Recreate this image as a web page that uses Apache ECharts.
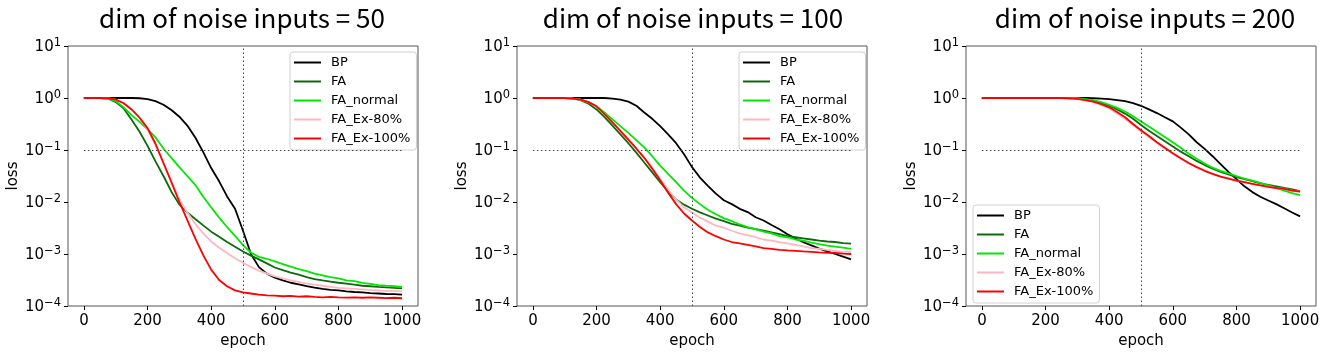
<!DOCTYPE html>
<html>
<head>
<meta charset="utf-8">
<script src="https://cdn.jsdelivr.net/npm/echarts@6/dist/echarts.min.js"></script>
<style>
  html, body { margin: 0; padding: 0; background: #fff; }
  #chart { width: 1325px; height: 354px; }
</style>
</head>
<body>
<div id="chart"></div>
<script>
// epochs sampled every 25
const epochs = [0,25,50,75,100,125,150,175,200,225,250,275,300,325,350,375,400,425,450,475,500,
  525,550,575,600,625,650,675,700,725,750,775,800,825,850,875,900,925,950,975,1000];

const names = ['BP', 'FA', 'FA_normal', 'FA_Ex-80%', 'FA_Ex-100%'];
const colors = ['#000000', '#0a6b0a', '#00e800', '#ffb6c1', '#ff0000'];
const titles = ['dim of noise inputs = 50', 'dim of noise inputs = 100', 'dim of noise inputs = 200'];

const xTicks = [0, 200, 400, 600, 800, 1000];
const yTicks = [1e-4, 1e-3, 1e-2, 1e-1, 1, 10];
const refEpoch = 500;
const refLoss = 0.1;

// dim = 50
const bp50 = [1,1,1,1,1,1,1,0.989,0.955,0.871,0.741,0.589,0.437,0.295,0.174,0.091,0.045,0.025,0.0128,0.0074,0.0028,
  0.001,0.00056,0.00042,0.00035,0.00031,0.00028,0.00026,0.00024,0.000226,0.000214,0.000205,0.000199,0.000191,0.000186,0.000182,0.000177,0.000174,0.00017,0.000169,0.000166];
const fa50 = [1,1,1,0.977,0.832,0.631,0.38,0.224,0.12,0.0603,0.0316,0.0158,0.0089,0.0063,0.0047,0.00355,0.00269,0.00214,0.0017,0.00138,0.00112,
  0.00093,0.00079,0.00066,0.00055,0.00049,0.00044,0.0004,0.00036,0.00033,0.00031,0.000295,0.00028,0.00027,0.000257,0.000245,0.00024,0.000234,0.000229,0.000224,0.000219];
const faNormal50 = [1,1,1,0.977,0.871,0.661,0.468,0.347,0.251,0.174,0.107,0.0708,0.0468,0.0316,0.0214,0.0126,0.0079,0.005,0.0033,0.00224,0.00148,
  0.00107,0.00088,0.00081,0.00072,0.00064,0.00057,0.00051,0.00047,0.00042,0.00039,0.00036,0.00034,0.00031,0.0003,0.000278,0.000266,0.000253,0.000246,0.00024,0.000234];
const faEx80_50 = [1,1,1,0.989,0.933,0.794,0.603,0.417,0.251,0.126,0.0562,0.0251,0.0112,0.0063,0.0038,0.0025,0.00174,0.00132,0.00105,0.00083,0.00068,
  0.00056,0.00048,0.00042,0.00037,0.00034,0.00031,0.00029,0.00027,0.000257,0.000245,0.000234,0.000224,0.000219,0.000214,0.000209,0.000204,0.0002,0.000195,0.000195,0.000191];
const faEx100_50 = [1,1,1,0.989,0.933,0.794,0.603,0.417,0.263,0.132,0.0562,0.024,0.01,0.00447,0.002,0.00095,0.0005,0.000316,0.00024,0.0002,0.000182,
  0.000174,0.000166,0.00016,0.000158,0.000154,0.000156,0.000151,0.000154,0.00015,0.000147,0.00015,0.000147,0.000145,0.000147,0.000144,0.000146,0.000144,0.000142,0.000144,0.000141];

// dim = 100
const bp100 = [1,1,1,1,1,1,1,1,1,1,0.977,0.933,0.851,0.708,0.525,0.398,0.288,0.2,0.135,0.083,0.0468,
  0.0295,0.0205,0.0145,0.0108,0.0091,0.0074,0.0064,0.0051,0.0044,0.0036,0.003,0.0024,0.002,0.00168,0.00146,0.00127,0.00112,0.001,0.00089,0.00079];
const fa100 = [1,1,1,1,1,0.977,0.912,0.776,0.603,0.427,0.295,0.2,0.135,0.089,0.0575,0.0372,0.024,0.0158,0.0112,0.0089,0.0074,
  0.0063,0.0055,0.0048,0.0043,0.0038,0.0035,0.0032,0.003,0.0028,0.0026,0.0024,0.0022,0.0021,0.002,0.0019,0.0018,0.00174,0.0017,0.00162,0.00158];
const faNormal100 = [1,1,1,1,1,0.977,0.933,0.832,0.692,0.525,0.389,0.288,0.214,0.155,0.112,0.0759,0.05,0.0347,0.024,0.0166,0.012,
  0.0091,0.0071,0.0058,0.0049,0.0043,0.0037,0.0033,0.003,0.0027,0.0025,0.0022,0.0021,0.0019,0.0018,0.00166,0.00155,0.00145,0.00138,0.00132,0.00126];
const faEx80_100 = [1,1,1,1,1,0.977,0.933,0.832,0.692,0.49,0.339,0.234,0.158,0.107,0.0708,0.046,0.028,0.0174,0.0112,0.0079,0.0063,
  0.005,0.0042,0.0035,0.0032,0.0028,0.0025,0.0023,0.0021,0.0019,0.0018,0.0017,0.0016,0.0015,0.0014,0.0013,0.00126,0.0012,0.00115,0.0011,0.0011];
const faEx100_100 = [1,1,1,1,1,0.977,0.933,0.832,0.692,0.49,0.339,0.234,0.158,0.107,0.0708,0.0437,0.0263,0.0151,0.0091,0.006,0.0044,
  0.0033,0.0026,0.0022,0.0019,0.0017,0.0016,0.0015,0.0014,0.0013,0.00126,0.0012,0.00117,0.00115,0.00112,0.0011,0.00107,0.00105,0.00105,0.00102,0.001];

// dim = 200
const bp200 = [1,1,1,1,1,1,1,1,1,1,1,1,1,1,0.989,0.977,0.955,0.912,0.871,0.794,0.708,
  0.603,0.513,0.427,0.355,0.269,0.2,0.141,0.105,0.0759,0.0537,0.038,0.0275,0.02,0.0155,0.0126,0.0107,0.0091,0.0076,0.0063,0.0053];
const fa200 = [1,1,1,1,1,1,1,1,1,1,1,0.989,0.977,0.933,0.871,0.794,0.708,0.603,0.501,0.398,0.302,
  0.234,0.186,0.148,0.117,0.093,0.0759,0.0617,0.0513,0.0437,0.038,0.0339,0.0302,0.0275,0.0251,0.0229,0.0214,0.02,0.0186,0.0174,0.0162];
const faNormal200 = [1,1,1,1,1,1,1,1,1,1,1,1,0.989,0.955,0.912,0.832,0.741,0.646,0.55,0.447,0.355,
  0.282,0.224,0.178,0.141,0.11,0.0851,0.0676,0.055,0.0457,0.0398,0.0355,0.0316,0.0282,0.0257,0.0234,0.0209,0.0186,0.0166,0.0148,0.0135];
const faEx80_200 = [1,1,1,1,1,1,1,1,1,1,1,0.985,0.96,0.9,0.83,0.74,0.631,0.501,0.398,0.302,0.229,
  0.178,0.138,0.107,0.085,0.068,0.055,0.047,0.04,0.0347,0.031,0.0282,0.0257,0.024,0.0224,0.0209,0.0195,0.0186,0.0178,0.0166,0.0158];
const faEx100_200 = [1,1,1,1,1,1,1,1,1,1,1,0.989,0.966,0.912,0.851,0.759,0.661,0.537,0.427,0.316,0.24,
  0.186,0.141,0.11,0.087,0.0692,0.0562,0.0468,0.0398,0.0347,0.0309,0.0282,0.0257,0.024,0.0224,0.0209,0.0195,0.0186,0.0178,0.0166,0.0158];

const panels = [
  [bp50, fa50, faNormal50, faEx80_50, faEx100_50],
  [bp100, fa100, faNormal100, faEx80_100, faEx100_100],
  [bp200, fa200, faNormal200, faEx80_200, faEx100_200]
];

const gridLefts = [68, 517, 966];
const gridWidth = 350;
const titleCenters = [237, 688, 1140];
const legendPos = [{left: 290, top: 52}, {left: 739, top: 52}, {left: 973, top: 205}];

const tickFont = 'DejaVu Sans';

function supLabel(v) {
  const e = Math.round(Math.log10(v));
  return '{b|10}{s|' + (e < 0 ? '\u2212' + (-e) : e) + '}';
}

const chart = echarts.init(document.getElementById('chart'));

const grid = [], xAxis = [], yAxis = [], series = [], title = [], legend = [];

panels.forEach((sets, p) => {
  grid.push({left: gridLefts[p], top: 46, width: gridWidth, height: 262,
    show: true, borderColor: '#555', borderWidth: 1, backgroundColor: '#fff'});
  xAxis.push({
    type: 'value', gridIndex: p, min: -50, max: 1050,
    name: 'epoch', nameLocation: 'middle', nameGap: 28,
    nameTextStyle: {fontFamily: tickFont, fontSize: 15, color: '#000'},
    axisLine: {show: false, onZero: false},
    splitLine: {show: false},
    axisTick: {show: true, length: 4, customValues: xTicks, lineStyle: {color: '#000'}},
    axisLabel: {customValues: xTicks, margin: 8, fontFamily: tickFont, fontSize: 15, color: '#000',
      formatter: v => String(v)}
  });
  yAxis.push({
    type: 'log', logBase: 10, gridIndex: p, min: 1e-4, max: 10,
    name: 'loss', nameLocation: 'middle', nameGap: 46,
    nameTextStyle: {fontFamily: tickFont, fontSize: 15, color: '#000'},
    axisLine: {show: false, onZero: false},
    splitLine: {show: false},
    axisTick: {show: true, length: 4, customValues: yTicks, lineStyle: {color: '#000'}},
    axisLabel: {
      customValues: yTicks, margin: 7, color: '#000',
      formatter: supLabel,
      rich: {
        b: {fontFamily: tickFont, fontSize: 15, color: '#000', verticalAlign: 'bottom', lineHeight: 18},
        s: {fontFamily: tickFont, fontSize: 11.5, color: '#000', verticalAlign: 'top', lineHeight: 18, padding: [0, 0, 6, 0]}
      }
    }
  });
  title.push({
    text: titles[p], left: titleCenters[p], top: 0, textAlign: 'center',
    textStyle: {fontFamily: 'Noto Sans CJK JP', fontWeight: 'normal', fontSize: 26, color: '#000'}
  });
  legend.push({
    orient: 'vertical', left: legendPos[p].left, top: legendPos[p].top,
    data: names, icon: 'rect', itemWidth: 27, itemHeight: 2, itemGap: 4,
    padding: [3, 6, 4, 4],
    backgroundColor: 'rgba(255,255,255,0.85)', borderColor: '#d0d0d0', borderWidth: 1, borderRadius: 3,
    textStyle: {fontFamily: tickFont, fontSize: 13, color: '#000', lineHeight: 15, padding: [0, 0, 0, 5]},
    selectedMode: false
  });
  sets.forEach((vals, i) => {
    const s = {
      name: names[i], type: 'line', xAxisIndex: p, yAxisIndex: p,
      data: epochs.map((e, k) => [e, vals[k]]),
      showSymbol: false, symbol: 'none', color: colors[i],
      lineStyle: {color: colors[i], width: 1.8},
      z: 2 + i, animation: false
    };
    if (i === 0) {
      s.markLine = {
        silent: true, symbol: 'none', animation: false, z: 20,
        label: {show: false},
        lineStyle: {color: '#444', type: [1.5, 2.5], width: 1},
        data: [
          {xAxis: refEpoch},
          [{coord: [xTicks[0], refLoss]}, {coord: [xTicks[xTicks.length - 1], refLoss]}]
        ]
      };
    }
    series.push(s);
  });
});

chart.setOption({
  animation: false,
  backgroundColor: '#fff',
  title, legend, grid, xAxis, yAxis, series
});
</script>
</body>
</html>
